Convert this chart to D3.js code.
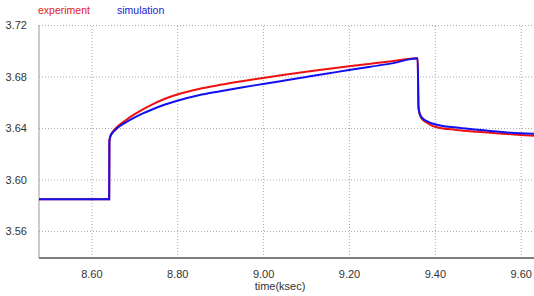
<!DOCTYPE html>
<head>
<meta charset="utf-8">
<style>
body { margin: 0; background: #fff; }
text { font-family: "Liberation Sans", Arial, sans-serif; }
.grid line { stroke: #aaa; stroke-dasharray: 1,2; }
.tick text { fill: #333; font-size: 11px; }
</style>
</head>
<body>
<script src="https://cdn.jsdelivr.net/npm/d3@7"></script>
<script>
// time in ksec
var expTime = [8.478, 8.6415, 8.642, 8.645, 8.65, 8.66, 8.68, 8.70, 8.72, 8.74, 8.77, 8.80, 8.85, 8.90, 8.95, 9.00, 9.05, 9.10, 9.15, 9.20, 9.25, 9.30, 9.36,
               9.362, 9.365, 9.37, 9.38, 9.39, 9.40, 9.45, 9.50, 9.55, 9.60, 9.631];
var expVal  = [3.5846, 3.5846, 3.630, 3.6345, 3.6372, 3.6408, 3.646, 3.6505, 3.6545, 3.658, 3.6625, 3.666, 3.6703, 3.6735, 3.6763, 3.6789, 3.6813, 3.6836, 3.6858, 3.6879, 3.6899, 3.6919, 3.6942,
               3.656, 3.6505, 3.647, 3.6445, 3.6425, 3.641, 3.6385, 3.637, 3.6357, 3.6346, 3.634];
var simTime = [8.478, 8.6415, 8.642, 8.645, 8.65, 8.66, 8.68, 8.70, 8.72, 8.74, 8.77, 8.80, 8.85, 8.90, 8.95, 9.00, 9.05, 9.10, 9.15, 9.20, 9.25, 9.30, 9.36,
               9.362, 9.365, 9.37, 9.38, 9.39, 9.40, 9.45, 9.50, 9.55, 9.60, 9.631];
var simVal  = [3.5846, 3.5846, 3.630, 3.634, 3.6365, 3.6398, 3.6443, 3.648, 3.6513, 3.6542, 3.658, 3.6612, 3.6655, 3.6686, 3.6715, 3.6742, 3.6769, 3.6796, 3.6823, 3.685, 3.6876, 3.6902, 3.6942,
               3.656, 3.651, 3.648, 3.6455, 3.644, 3.6429, 3.6403, 3.6387, 3.637, 3.6359, 3.6355];
var xTicks = [8.60, 8.80, 9.00, 9.20, 9.40, 9.60];
var yTicks = [3.56, 3.60, 3.64, 3.68, 3.72];

var width = 534, height = 296;
var mLeft = 39, mTop = 25, mRight = 534, mBottom = 258;

var x = d3.scaleLinear().domain([8.478, 9.631]).range([mLeft, mRight]);
var y = d3.scaleLinear().domain([3.539, 3.72]).range([mBottom, mTop]);

var svg = d3.select("body").append("svg")
    .attr("width", width)
    .attr("height", height);

// grid
svg.append("g")
    .attr("class", "grid")
    .attr("transform", "translate(0," + mBottom + ")")
    .call(d3.axisBottom(x).tickValues(xTicks).tickSize(-(mBottom - mTop)).tickFormat(""))
    .call(function(g) { g.select(".domain").remove(); });

svg.append("g")
    .attr("class", "grid")
    .attr("transform", "translate(" + mLeft + ",0)")
    .call(d3.axisLeft(y).tickValues(yTicks).tickSize(-(mRight - mLeft)).tickFormat(""))
    .call(function(g) { g.select(".domain").remove(); });

// tick labels
var xAxis = svg.append("g")
    .attr("transform", "translate(0," + mBottom + ")")
    .call(d3.axisBottom(x).tickValues(xTicks).tickSize(0).tickPadding(12).tickFormat(d3.format(".2f")));
xAxis.select(".domain").remove();

var yAxis = svg.append("g")
    .attr("transform", "translate(" + mLeft + ",0)")
    .call(d3.axisLeft(y).tickValues(yTicks).tickSize(0).tickPadding(12).tickFormat(d3.format(".2f")));
yAxis.select(".domain").remove();

svg.append("line")
    .attr("x1", mLeft).attr("x2", mLeft).attr("y1", mTop).attr("y2", mBottom)
    .attr("stroke", "#999").attr("stroke-width", 1);
svg.append("line")
    .attr("x1", mLeft).attr("x2", mRight).attr("y1", mBottom).attr("y2", mBottom)
    .attr("stroke", "#555").attr("stroke-width", 1.5);

var line = d3.line()
    .x(function(d) { return x(d[0]); })
    .y(function(d) { return y(d[1]); })
    .curve(d3.curveMonotoneX);

svg.append("path")
    .datum(d3.zip(expTime, expVal))
    .attr("fill", "none")
    .attr("stroke", "#f01010")
    .attr("stroke-width", 2)
    .attr("d", line);

svg.append("path")
    .datum(d3.zip(simTime, simVal))
    .attr("fill", "none")
    .attr("stroke", "#1010f0")
    .attr("stroke-width", 2)
    .attr("d", line);

// legend
svg.append("text").attr("x", 38).attr("y", 14).attr("fill", "#e02020").style("font-size", "10.5px").text("experiment");
svg.append("text").attr("x", 117).attr("y", 14).attr("fill", "#2020d0").style("font-size", "10.5px").text("simulation");

svg.append("text")
    .attr("x", 280).attr("y", 290)
    .attr("text-anchor", "middle")
    .attr("fill", "#333")
    .style("font-size", "11px")
    .text("time(ksec)");
</script>
</body>
